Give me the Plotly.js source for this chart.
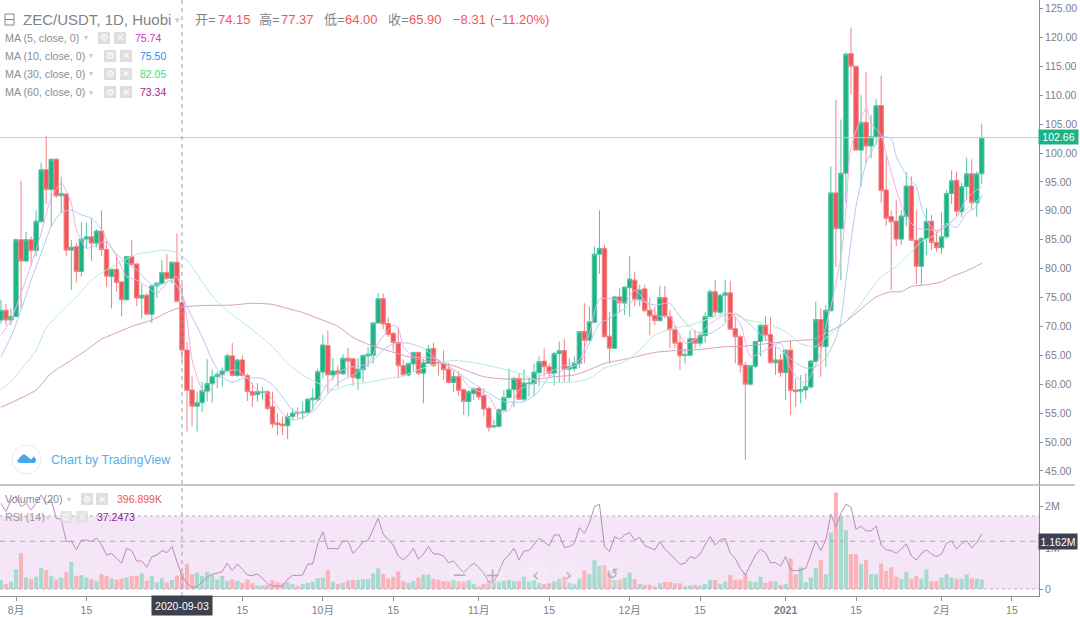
<!DOCTYPE html>
<html>
<head>
<meta charset="utf-8">
<script src="https://cdn.plot.ly/plotly-3.0.1.min.js"></script>
<style>html,body{margin:0;padding:0;background:#fff;overflow:hidden}#c{width:1080px;height:618px}</style>
</head>
<body>
<div id="c"></div>
<script>
const opens = [
71.1,72.8,71.1,71.7,85.0,81.3,85.0,83.1,88.1,97.1,
93.7,98.9,92.6,92.9,83.2,83.8,79.5,85.1,85.5,84.4,
86.5,83.3,78.6,79.9,77.7,74.6,82.1,80.8,74.9,75.4,
72.1,77,77.4,79.3,78.3,81.1,74.15,65.9,59,56.2,
56.8,58.8,60.1,61.3,61.6,62.3,64.9,61.5,64.2,61.5,
58.7,58.2,58.5,58.7,
56.1,53.3,53.1,52.8,54.4,55.1,55,55.1,57.3,57.3,
62.1,66.7,61.6,62.3,61.8,64.5,64.4,61,62.5,64.9,
65,70.6,74.8,70.5,68.8,67.2,63.2,61.6,63.5,65.5,
61.9,63.6,66.2,63.7,63.6,62.6,60.3,61.3,59.1,57,
58.4,59.3,58,55.8,52.6,52.7,55.5,57.7,59.1,61,
57.4,60.1,60.1,62,
64,63,61.9,65.3,65.8,62.6,62.7,63.6,69.1,67.6,
70.7,82.5,83.5,68.3,66.2,75.1,74,76.7,78,74.7,
76.5,72.8,71.9,71,75,71.7,69.4,67.2,65,65,
67.9,67.1,68.4,71.7,76,72.4,75.4,75.8,69.6,68.2,
63.3,60,63.1,67.4,70.2,68.6,63.7,64.2,62,65.9,
59,58.8,59,
59.5,63.9,71.2,66.5,72.7,93.1,86.9,96.5,117.2,115,
100.5,105.3,101.2,102.8,108.2,93.6,89,88.2,85.1,89,
94.3,84.9,80.4,85.2,88.2,84.5,83.6,85.5,93,95.3,
89.8,94.2,96.4,91.4,96.4];
const closes = [
72.8,71.1,71.7,85.0,81.3,85.0,83.1,88.2,97.1,93.7,
98.9,92.6,93,83.2,83.7,79.5,85.1,85.5,84.4,86.5,
83.3,78.7,79.9,77.6,74.6,82.1,80.7,74.9,75.4,72.1,
77,77.5,79.3,78.3,81.1,74.3,65.9,58.9,56.2,56.8,
58.9,60.1,61.3,61.7,62.3,64.9,61.5,64.2,61.5,58.7,
58.1,58.7,58.7,55.8,
53.1,53,52.8,54.4,55,55,55.2,57.4,57.6,62.2,
66.8,61.6,62.3,61.8,64.5,64,61.2,62.6,65,65.2,
70.6,74.8,70.4,68.6,67.2,63.2,61.6,63.6,65.5,61.9,
63.7,66.1,63.2,63.6,62.5,60.3,61.3,58.9,57,58.7,
59.2,57.8,55.7,52.5,52.8,55.6,57.7,59.1,61,57.4,
60.2,60.2,62.1,63.9,
63,61.9,65.3,65.8,62.6,63,63.6,69.1,67.6,70.8,
82.5,83.5,68.2,66.2,75.1,74.1,76.8,78.2,74.7,76.3,
72.7,71.8,71,75,71.7,69.4,67.1,64.9,65.1,67.9,
67.1,68.5,71.7,76,72.5,75.4,75.8,69.5,68.2,63.3,
60,63.2,67.4,70.2,68.5,63.7,64.2,62,65.9,58.9,
58.7,59.1,59.6,
64,71.2,66.5,72.8,93.1,86.9,96.5,117.1,115,100.5,
105.3,101.2,102.8,108.2,93.5,88.7,88.1,85.1,89.1,94.3,
84.9,80.4,85.2,88.2,84.5,83.6,85.5,93,95.2,89.9,
94.2,96.4,91.4,96.4,102.66];
const highs = [
74.6,73.9,73.1,85.2,95.2,86.4,85.5,90.1,98.3,103,
99.1,99.2,95.9,93,85,84.5,88,88,88.7,86.8,
90.1,84.7,79.9,82.4,77.8,82.2,85,80.9,77.2,75.7,
77.2,77.6,81.5,82.5,81.2,86.1,77.37,67.3,61.3,58.7,
60.4,64.3,62.5,62.1,62.9,65.3,67.1,64.3,65,61.9,
60.2,60.2,59.5,59,
58.7,55,54.4,55,55.8,56,57,57.6,59.3,62.7,
68.6,69.3,64.5,63.3,65.2,66.3,64.5,64.5,65.1,66.4,
70.8,75.8,75.7,71.6,69.1,69.8,64.3,63.7,65.6,65.6,
64.3,66.8,67.2,64.3,65.9,63.6,62.3,62.2,59.2,59,
59.5,59.6,59.3,56.1,53.8,55.8,59,62.7,61.3,61.9,
62.6,61.1,63.5,64.8,
66.2,63.6,65.6,67.4,67.8,64.5,64.8,69.2,74,73.5,
83.8,90.1,84.1,72.5,75.3,76.6,76.9,82.2,79.5,77.2,
77.2,75,73.4,77,77,72.8,70.2,68.5,66.2,69.3,
69.4,69.1,72.5,76.4,78.1,75.6,78,77.9,71.7,68.5,
63.9,63.3,67.5,70.4,71.8,71.6,66.5,65.2,66,67.6,
61,61.6,61.9,
64.2,74.3,73.1,73.7,97.7,109.2,105.8,117.4,121.7,115.1,
110,114,106.6,109.3,113.4,99.7,90,91.9,90.1,96.7,
96,90.1,85.4,90.4,89.3,86.4,89.7,93.6,97,96.8,
94.9,99.2,98.9,96.8,105.1];
const lows = [
70.5,70.2,70.2,71.6,73.2,81.2,80.6,82.1,88,91.2,
87.3,92.2,89.6,82.2,76.3,77.6,78.6,83.5,81.3,83.7,
82.2,76.8,73.1,76,71.7,74.5,80.6,73.5,71.4,72,
70.6,74.9,77.2,78,77.4,74.2,64,51.8,52.7,51.8,
55.2,57,56.8,59.3,59.6,62.2,61.3,61.3,61.3,57.1,
56.1,57,57.3,55.5,
52.5,51.2,51.2,50.5,53.8,54.1,53.9,54.9,55.5,57,
61,58.5,60.7,59.5,61.6,61.3,59.7,59,60.3,63,
63.6,70.4,69.5,68.2,65.8,61,61.3,61.4,62.3,61.6,
56.7,63.5,63,61.5,60.7,60.2,58.7,57.9,54.7,54.4,
57.3,57.3,54.4,51.8,52.4,52.5,55.4,57.4,56,57.3,
57,57.9,57.9,59.6,
61.3,61.3,59.8,60.4,60.4,60.4,62.2,62.8,63.6,67.4,
70.6,79.1,68.1,63.6,66.1,72.5,72,71.7,73.5,73.5,
72.6,68.5,70.2,70.8,71.4,66.2,66.2,62.5,63.6,64.9,
66.2,66.5,67.1,71.6,71.7,72,70.8,69.5,63.6,62,
46.9,59.7,62.8,64.8,67.4,63.6,61.6,61.3,57.3,54.7,
56.1,56.7,57.4,
59.3,63.8,61.3,63,72.6,80.3,78,91.4,110.2,100.4,
94.2,98.2,99.1,101.4,91.3,87.4,76.3,83.9,84.1,87.3,
84.9,77.3,77.2,82.3,83.2,82.9,82.6,85.2,91.2,89,
88.9,91.9,90.3,89,94.7];
const volumeM = [
.22,.12,.18,.48,.87,.28,.24,.30,.52,.46,
.32,.23,.28,.41,.66,.32,.34,.28,.24,.19,
.36,.32,.26,.23,.25,.28,.32,.32,.38,.2,
.32,.16,.26,.16,.22,.33,.397,.61,.36,.40,
.32,.42,.34,.23,.32,.19,.23,.20,.15,.23,
.14,.08,.08,.10,.22,.16,.14,.16,.12,.07,
.12,.15,.18,.26,.28,.46,.18,.12,.15,.2,
.22,.22,
.24,.24,.38,.50,.36,.25,.30,.43,.19,.15,
.19,.28,.35,.35,.25,.22,.19,.19,.22,.19,
.18,.22,.12,.06,.12,.2,.16,.18,.2,.22,
.19,.19,.3,.18,.22,.15,.12,.14,.18,.25,
.3,.15,.12,.26,.45,.36,.70,.56,.58,.40,
.22,.23,.28,.40,.24,.12,.10,.10,.06,.14,
.17,.17,.14,.14,.07,.09,.10,.08,.12,.22,
.22,.12,
.18,.34,.23,.23,.36,.19,.17,.30,.15,.19,
.18,.10,.12,.74,.36,.53,.17,.28,.51,.70,
.36,1.37,2.35,1.76,1.43,.85,.85,.61,.70,.36,
.36,.62,.44,.53,.30,.25,.42,.25,.32,.25,
.48,.19,.19,.28,.36,.28,.25,.25,.36,.26,
.25,.23];
const rsi = [
76.9,72.4,78.4,80.9,75.1,76.9,73.3,76.9,81.5,76.9,
78.8,68.7,68.2,55.9,56.3,51.4,56.8,56.8,55.9,57.8,
54.1,48.6,49.5,46.8,44.1,52.3,51,45.3,45.3,41.9,
47.7,48.6,51,49.9,53.2,45,37.25,33.1,30.9,31.3,
34,36.4,38.2,38.6,39.5,44.1,40,43.7,40.8,37.7,
37.3,38.2,35.8,33.1,31.6,31.8,31.6,35.3,37.5,37.3,
37.7,43.7,43.7,55,61.4,51.9,52.3,51.9,56.3,56.3,
49.5,52.3,
55.9,56.5,62.3,68.7,60,57.2,54.1,48.1,45.9,48.5,
52.3,46.3,49.2,53.2,49.2,49.2,48.1,44.4,45.3,41.9,
38.9,41.9,44.1,41.9,38.6,34,33.8,39.5,45.9,48.6,
52.3,45.9,50.8,51,54.1,57.8,55.9,53.6,59.6,59.6,
52.8,53.2,55,63.6,60.5,66,75.1,76.4,53.2,50.5,
58.7,57.2,59.6,60.9,56.8,58.3,53.7,52.7,51.4,55.9,
51.9,49.2,46.3,43.5,44.1,47.7,46.8,49.2,54.1,58.7,
54.1,56.8,
57.6,49.5,46.8,41.3,37.7,43.2,48.6,51.7,49.9,44.4,
44.4,42.6,47.7,40.4,40,40.4,41.3,48.6,56.5,51,
56.8,70.9,64.1,71.5,76.4,74.8,62.7,64.5,61.8,61.8,
64.5,54.1,51.4,51,49.5,51.9,54.7,48.1,45.9,49.5,
51.4,49.2,47.7,49.2,55,56.3,51.9,55,56.5,52.5,
55.4,60.1];

const ma5Day = [0,2,4,6,8,10,12,14,15,17,19,21,23,25,27,29,31,33,35,36,37,38,40,41,43,45,47,49,51,53,
54,56,58,61,63,65,68,70,73,75,78,79,80,82,86,88,91,93,97,99,101,103,106,107,
110,113,115,117,119,122,124,126,129,131,133,136,138,141,145,147,149,152,155,157,159,160,161,163,164,165,167,168,169,172,173,175,176,178,180,182,184,186,188,190,192,194,195];
const ma5Val = [68.5,71.1,75.7,80.6,86.1,92.2,94.8,91.3,86.7,83.5,84.1,84.7,82.1,78.6,78,76.9,75.7,77.5,78.6,75.74,71.1,64.2,59,58.4,60.7,62.2,62.5,61,59,58.4,
57.3,55,53.8,54.7,57.3,60.2,62.5,63,63.6,67.1,70.2,69.7,66.5,64.8,64.5,63.6,61.9,59.6,57.9,55,55.5,59,60.2,61.3,
62.5,63.6,64.2,68.8,74.7,74.7,74,76.3,73.4,71.7,71.7,67.1,67.7,70.5,72.3,70.5,64.8,65.9,67.1,62.7,60.5,60.2,61.5,65.5,70,73.4,82,90,101,107.7,105.1,103.1,99.9,93.6,89,87,86.8,86.6,87.3,89,92.1,93.6,94.2];
const ma10Day = [0,2,4,6,8,10,12,14,16,18,20,22,25,27,30,32,34,36,37,40,42,44,46,48,52,54,
56,58,60,62,64,67,70,73,76,78,81,84,87,90,93,97,100,104,107,
109,112,115,117,119,121,124,126,130,133,135,138,141,144,146,149,152,155,158,160,162,164,166,167,168,170,172,174,175,177,178,180,182,183,184,186,188,190,192,194,195];
const ma10Val = [64.8,68.2,72.8,78,82.6,87.3,89.7,90.1,89.3,88.7,86.7,83.5,80.9,79.8,77.2,77.3,78,75.5,73.4,68.2,64.2,61.3,60.3,61,61,59.9,
57.8,55.5,55,55.2,57.3,60.2,61.6,63.3,65.9,67,67.1,66.2,64.2,62.5,60.7,58.4,57,57,58.8,
61.3,62.5,63.6,67.1,70.5,71.4,73.1,74.6,73.7,74,71.7,69.1,68.8,70.5,72.3,70.2,67.9,65.9,63.7,62.8,63,64.5,68,71,78,90.7,98.2,101.7,102.8,102.5,99.4,96.2,94.2,90.7,88.4,86.4,87.8,87.1,89.6,90.7,92.7];
const ma30Day = [0,2,4,7,9,12,15,18,21,24,27,30,32,35,36,37,40,43,46,50,54,
57,60,63,66,69,73,77,80,83,87,90,95,99,103,107,
110,114,117,120,124,127,130,134,137,140,145,148,152,156,159,162,164,167,170,171,175,178,181,183,185,187,190,193,195];
const ma30Val = [59.1,60.4,62.5,65.9,69.7,72.6,75.1,78,79.8,81.2,82.5,82.9,83.2,82.8,82.05,81.5,77.7,74.3,72,69.4,66.5,
63.6,61.6,60.2,59,59.9,60.3,61,61.5,62.5,63.6,64.1,63.6,62.8,61.9,60.5,
60.3,60.4,61,62.8,63.9,65.9,68.5,69.7,70.2,71.1,72.3,71.2,70.5,69.1,67,66.5,68,70,72.8,74,78.6,80.3,82.9,84.7,85.5,86.7,89,91,92.4];
const ma60Day = [0,3,7,10,13,17,20,23,26,30,33,36,40,46,50,54,
57,60,63,67,70,73,80,83,87,90,93,96,100,103,107,
110,114,117,120,124,127,130,134,137,140,144,147,150,154,157,161,162,164,167,171,174,177,179,181,184,187,189,192,195];
const ma60Val = [56,57.2,59,61.9,63.6,65.9,67.8,68.9,70,71.1,72.4,73.34,73.6,73.7,74,73.8,
73.1,72.4,71.4,70,68.1,66.9,65,64.3,63.8,63.2,62.2,61.3,60.9,60.9,60.9,
61.3,61.6,62.5,63.6,64.3,64.9,65.5,65.8,65.9,66.1,66.5,66.5,66.8,67.2,67.5,67.7,67.9,68.8,70.2,73,75.1,76,76,76.9,77.2,77.7,78.6,79.6,80.9];

const xTickDates = ['2020-08-01','2020-08-15','2020-09-15','2020-10-01','2020-10-15','2020-11-01','2020-11-15','2020-12-01','2020-12-15','2021-01-01','2021-01-15','2021-02-01','2021-02-15'];
const xTickText = ['8月','15','15','10月','15','11月','15','12月','15','<b>2021</b>','15','2月','15'];

const FONT = '"Liberation Sans","Noto Sans CJK SC",sans-serif';
const GREY = '#7d8088', AXIS = '#8e8e8e', UP = '#1db385', DOWN = '#f1565a';
const PW = 1039, PH = 596;

const dates = opens.map((_, i) => new Date(Date.UTC(2020, 6, 29 + i)).toISOString().slice(0, 10));
const px = x => x / PW, py = y => (PH - y) / PH;
const atDays = days => days.map(d => dates[d]);
const maLine = color => ({color:color, width:1, shape:'spline', smoothing:0.6});

const traces = [
  {type:'bar', x:dates, y:volumeM, yaxis:'y2', xaxis:'x', hoverinfo:'skip',
   marker:{color:opens.map((o,i)=>closes[i]>=o?'#a6dacd':'#f9b4b9'), line:{width:0}}},
  {type:'scatter', mode:'lines', x:dates, y:rsi, yaxis:'y3', xaxis:'x', hoverinfo:'skip', line:{color:'#bb88c1', width:1}},
  {type:'candlestick', x:dates, open:opens, high:highs, low:lows, close:closes, xaxis:'x', yaxis:'y', hoverinfo:'skip',
   whiskerwidth:0,
   increasing:{line:{color:'#52c5a2', width:1}, fillcolor:UP},
   decreasing:{line:{color:'#f58184', width:1}, fillcolor:DOWN}},
  {type:'scatter', mode:'lines', x:atDays(ma60Day), y:ma60Val, line:maLine('#d79dbf'), hoverinfo:'skip'},
  {type:'scatter', mode:'lines', x:atDays(ma30Day), y:ma30Val, line:maLine('#b0eed1'), hoverinfo:'skip'},
  {type:'scatter', mode:'lines', x:atDays(ma10Day), y:ma10Val, line:maLine('#b0cbf3'), hoverinfo:'skip'},
  {type:'scatter', mode:'lines', x:atDays(ma5Day), y:ma5Val, line:maLine('#efb0e8'), hoverinfo:'skip'}
];

const annotations = [];
function txt(x, y, text, size, color, extra) {
  annotations.push(Object.assign({xref:'paper', yref:'paper', x:px(x), y:py(y), text:text, showarrow:false,
    xanchor:'left', yanchor:'middle', borderpad:0, font:{family:FONT, size:size, color:color}}, extra||{}));
}
const shapes = [];
function rectPx(x0,y0,x1,y1,fill,extra){
  shapes.push(Object.assign({type:'rect', xref:'paper', yref:'paper', x0:px(x0), x1:px(x1), y0:py(y0), y1:py(y1),
    fillcolor:fill, line:{width:0}, layer:'above'}, extra||{}));
}
function linePx(x0,y0,x1,y1,color,w){
  shapes.push({type:'line', xref:'paper', yref:'paper', x0:px(x0), x1:px(x1), y0:py(y0), y1:py(y1), line:{color:color,width:w}, layer:'above'});
}
function icons(x1, x2, y, op){
  [[x1,'⚙'],[x2,'✕']].forEach(([x,g])=>{
    rectPx(x,y-6,x+12,y+6,'#dedede',{opacity:op});
    txt(x+6,y,g,10,'#ffffff',{xanchor:'center',opacity:op, font:{family:'"DejaVu Sans"',size:10,color:'#ffffff'}});
  });
}

// price panel overlays
shapes.push({type:'rect', xref:'paper', x0:0, x1:1, yref:'y3', y0:30, y1:70, fillcolor:'#f4e6f6', line:{width:0}, layer:'below'});
shapes.push({type:'line', xref:'paper', x0:0, x1:1, yref:'y3', y0:70, y1:70, line:{color:'#c7a8cc', width:1, dash:'3px,3px'}, layer:'above'});
shapes.push({type:'line', xref:'paper', x0:0, x1:1, yref:'y3', y0:30, y1:30, line:{color:'#c7a8cc', width:1, dash:'3px,3px'}, layer:'above'});
shapes.push({type:'line', xref:'paper', x0:0, x1:1, yref:'y2', y0:1.162, y1:1.162, line:{color:'#b6a6b8', width:1, dash:'5px,5px'}, layer:'above'});
shapes.push({type:'line', xref:'paper', x0:0, x1:1, yref:'y', y0:102.66, y1:102.66, line:{color:'#8fe6cd', width:1}, layer:'above'});
shapes.push({type:'line', xref:'x', x0:'2020-09-03', x1:'2020-09-03', yref:'paper', y0:0, y1:1, line:{color:'#9a9ea8', width:1, dash:'4px,4px'}, layer:'above'});
linePx(0,485,1075,485,AXIS,1.2);

// header
rectPx(5,14,14,25,'rgba(0,0,0,0)',{line:{color:'#8a8a8a',width:1}});
linePx(5,19.5,14,19.5,'#8a8a8a',1);
txt(22,20,'ZEC/USDT, 1D, Huobi',15,'#80838a');
txt(174,20,'▾',9,'#c8c8c8');
[[194,'开='],[258,'高='],[323,'低='],[387,'收=']].forEach(a=>txt(a[0],20,a[1],13,'#80838a'));
[[217,'74.15'],[280,'77.37'],[344,'64.00'],[408,'65.90'],[452,'−8.31'],[489,'(−11.20%)']].forEach(a=>txt(a[0],20,a[1],13,DOWN));

const maRows = [[38,'MA (5, close, 0)',86,98,114,134,'75.74','#d726d7'],
                [56,'MA (10, close, 0)',91,104,120,139,'75.50','#2f89f0'],
                [74,'MA (30, close, 0)',91,104,120,139,'82.05','#33e07c'],
                [92,'MA (60, close, 0)',91,104,120,139,'73.34','#a3258e']];
maRows.forEach(r=>{
  txt(4,r[0],r[1],10.7,'#8a8d94');
  txt(r[2]-3,r[0],'▾',8,'#c8c8c8');
  icons(r[3],r[4],r[0],1);
  txt(r[5],r[0],r[6],10.5,r[7]);
});

// watermark
shapes.push({type:'circle', xref:'paper', yref:'paper', x0:px(12), x1:px(41), y0:py(445), y1:py(474), fillcolor:'#ffffff', line:{color:'#ece8f0',width:1}, layer:'above'});
const cloud = [[17,461],[21,456],[24,454],[28,457],[31,459.5],[34,456.5],[36,459],[36,461],[34.5,463],[19,463]];
shapes.push({type:'path', xref:'paper', yref:'paper', layer:'above', fillcolor:'#44a8ea', line:{width:0},
  path:'M '+cloud.map(p=>px(p[0])+' '+py(p[1])).join(' L ')+' Z'});
txt(50,460,'Chart by TradingView',12.5,'#56aeea');

// lower panel legend
txt(4,499,'Volume (20)',10.7,'#8a8d94');
txt(66,499,'▾',8,'#c8c8c8');
icons(81,96,499,1);
txt(116,499,'396.899K',10.5,'#f1565a');
txt(4,517,'RSI (14)',10.7,'#9c94a2');
txt(45,517,'▾',8,'#d8cfe0');
icons(60,76,517,.75);
txt(96,517,'37.2473',10.5,'#8b1f8f');

// chart navigation buttons
[459,492,535,568,612].forEach(x=>{
  shapes.push({type:'circle', xref:'paper', yref:'paper', x0:px(x-13), x1:px(x+13), y0:py(561), y1:py(587), fillcolor:'rgba(255,255,255,0.12)', line:{width:0}, layer:'above'});
});
[[459,'−'],[492,'+'],[535,'‹'],[568,'›'],[612,'↺']].forEach(a=>txt(a[0],574,a[1],18,'#b4a8ba',{xanchor:'center', font:{family:'"DejaVu Sans"',size:a[1]==='↺'?15:18,color:'#b4a8ba'}}));

// labels on the axes
txt(1058.5,137,'102.66',10.5,'#ffffff',{xanchor:'center',bgcolor:UP,width:39,height:14});
txt(1058,541,'1.162M',10.5,'#ffffff',{xanchor:'center',bgcolor:'#3d4152',width:38,height:15});
txt(182,605,'2020-09-03',10.5,'#ffffff',{xanchor:'center',bgcolor:'#3d414e',width:60,height:19});

const axisY = {side:'right', showline:true, linecolor:AXIS, linewidth:1, ticks:'outside', ticklen:3, tickcolor:AXIS, tickwidth:1,
  showgrid:false, zeroline:false, fixedrange:true, tickfont:{family:FONT, size:10.5, color:GREY}};

const layout = {
  width:1080, height:618, paper_bgcolor:'#fff', plot_bgcolor:'#fff', showlegend:false, dragmode:false,
  margin:{l:0, r:41, t:0, b:22, pad:0}, font:{family:FONT}, boxgap:0.12, boxgroupgap:0, bargap:0.18,
  xaxis:{type:'date', anchor:'y2', domain:[0,1], range:['2020-07-28 19:40','2021-02-20 09:06'], tickmode:'array',
    tickvals:xTickDates, ticktext:xTickText, showline:true, linecolor:AXIS, linewidth:1, ticks:'outside', ticklen:4, tickcolor:AXIS,
    showgrid:false, zeroline:false, fixedrange:true, rangeslider:{visible:false}, tickangle:0, tickfont:{family:FONT, size:10.5, color:GREY}},
  yaxis:Object.assign({}, axisY, {domain:[111/596,1], anchor:'x', range:[42.56,126.47], dtick:5, tick0:0, tickformat:'.2f'}),
  yaxis2:Object.assign({}, axisY, {domain:[0,110/596], anchor:'x', range:[-0.17,2.506], tickmode:'array', tickvals:[0,1,2], ticktext:['0','1M','2M']}),
  yaxis3:{domain:[0,110/596], overlaying:'y2', anchor:'x', range:[26.16,86.4], visible:false, fixedrange:true},
  shapes:shapes, annotations:annotations
};
Plotly.newPlot('c', traces, layout, {staticPlot:true, displayModeBar:false});
</script>
</body>
</html>
